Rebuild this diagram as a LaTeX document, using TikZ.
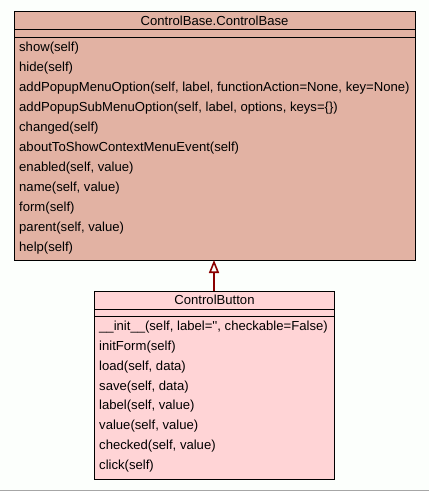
\documentclass[tikz,border=0pt]{standalone}
\usepackage{fontspec}
\setmainfont{Liberation Sans}
\usetikzlibrary{arrows.meta}
\definecolor{basefill}{HTML}{E2B2A3}
\definecolor{btnfill}{HTML}{FFD4D6}
\definecolor{inherit}{HTML}{8B0000}
\definecolor{pagebg}{HTML}{FCFFFC}
\tikzset{
  classbox/.style={draw=black, line width=1bp},
  member/.style={anchor=west, inner sep=0pt, font=\fontsize{13.1bp}{14bp}\selectfont},
  title/.style={anchor=center, inner sep=0pt, font=\fontsize{13.1bp}{14bp}\selectfont},
  inheritance/.style={draw=inherit, line width=2bp, -{Triangle[open, width=10bp, length=13bp, line width=1.6bp]}},
}
\begin{document}
\begin{tikzpicture}[x=1bp, y=-1bp]
  \fill[pagebg] (0,0) rectangle (429,491);
  \useasboundingbox (0,0) rectangle (429,491);
  \draw[gray!70, line width=1bp] (0,490) -- (429,490);

  % ControlBase class
  \filldraw[classbox, fill=basefill] (14,12) rectangle (415,260);
  \draw[classbox] (14,30) -- (415,30);
  \draw[classbox] (14,38) -- (415,38);
  \node[title] (basetitle) at (214.5,21) {ControlBase.ControlBase};
  \coordinate (basebottom) at (214,260);
  \foreach \txt [count=\i from 0] in {
    show(self),
    hide(self),
    {addPopupMenuOption(self, label, functionAction=None, key=None)},
    {addPopupSubMenuOption(self, label, options, keys=\{\})},
    changed(self),
    aboutToShowContextMenuEvent(self),
    {enabled(self, value)},
    {name(self, value)},
    form(self),
    {parent(self, value)},
    help(self)}
    \node[member] (bm\i) at (19,{48+20*\i}) {\txt};

  % ControlButton class
  \filldraw[classbox, fill=btnfill] (94.5,291) rectangle (334,479);
  \draw[classbox] (94.5,309) -- (334,309);
  \draw[classbox] (94.5,316.5) -- (334,316.5);
  \node[title] (btntitle) at (214.5,300) {ControlButton};
  \coordinate (btntop) at (214,291);
  \foreach \txt [count=\i from 0] in {
    {\_\_init\_\_(self, label=\textquotesingle\textquotesingle, checkable=False)},
    initForm(self),
    {load(self, data)},
    {save(self, data)},
    {label(self, value)},
    {value(self, value)},
    {checked(self, value)},
    click(self)}
    \node[member] (cm\i) at (99,{327+19.9*\i}) {\txt};

  % inheritance arrow
  \draw[inheritance] (btntop) -- (basebottom);
\end{tikzpicture}
\end{document}
